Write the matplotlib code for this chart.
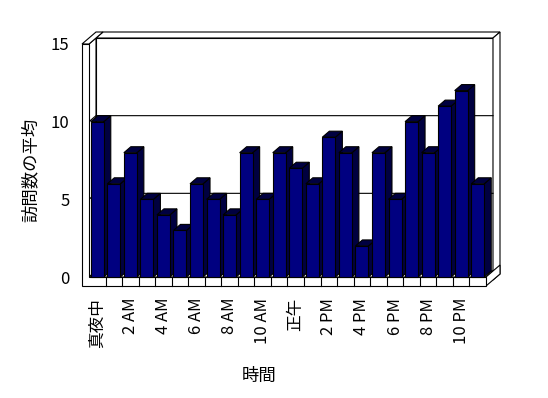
import matplotlib
matplotlib.use("Agg")
import matplotlib.pyplot as plt
from matplotlib.patches import Polygon

plt.rcParams['font.family'] = ['Noto Sans CJK JP', 'DejaVu Sans']

# ---- data ----
hours = ["真夜中", "1 AM", "2 AM", "3 AM", "4 AM", "5 AM", "6 AM", "7 AM", "8 AM", "9 AM",
         "10 AM", "11 AM", "正午", "1 PM", "2 PM", "3 PM", "4 PM", "5 PM", "6 PM", "7 PM",
         "8 PM", "9 PM", "10 PM", "11 PM"]
visits = [10, 6, 8, 5, 4, 3, 6, 5, 4, 8, 5, 8, 7, 6, 9, 8, 2, 8, 5, 10, 8, 11, 12, 6]
yticks = [0, 5, 10, 15]
xlabel = "時間"
ylabel = "訪問数の平均"

W, H = 548, 398
fig = plt.figure(figsize=(W / 100, H / 100), dpi=100)
L, R, B, T = 89, 486, 277, 44  # front plot plane in pixels
ax = fig.add_axes([L / W, 1 - B / H, (R - L) / W, (B - T) / H])
n = len(visits)
X0, X1 = -0.5, n - 0.5
Y0, Y1 = 0, 15
ax.set_xlim(X0, X1)
ax.set_ylim(Y0, Y1)
for s in ax.spines.values():
    s.set_visible(False)

pxx = (R - L) / n
pxy = (B - T) / (Y1 - Y0)
ddx, ddy = 7 / pxx, 6 / pxy      # one depth unit
tw, tf = 7 / pxx, 9 / pxy        # wall / floor thickness
lw = 0.8
navy = "#000080"
dark = "#000040"

def poly(pts, fc, z, ec="black"):
    p = Polygon(pts, closed=True, facecolor=fc, edgecolor=ec, linewidth=lw,
                zorder=z, clip_on=False, joinstyle="miter")
    ax.add_patch(p)

# back wall inner face
poly([(X0 + ddx, Y0 + ddy), (X1 + ddx, Y0 + ddy), (X1 + ddx, Y1 + ddy), (X0 + ddx, Y1 + ddy)], "white", 1)
# back wall top & right side
poly([(X0 + ddx, Y1 + ddy), (X1 + ddx, Y1 + ddy), (X1 + 2 * ddx, Y1 + 2 * ddy), (X0 + 2 * ddx, Y1 + 2 * ddy)], "white", 1)
poly([(X1 + ddx, Y0 - tf + ddy), (X1 + ddx, Y1 + ddy), (X1 + 2 * ddx, Y1 + 2 * ddy), (X1 + 2 * ddx, Y0 - tf + 2 * ddy)], "white", 1)
# left wall inner face
poly([(X0, Y0), (X0, Y1), (X0 + ddx, Y1 + ddy), (X0 + ddx, Y0 + ddy)], "white", 1.5)
# gridlines on back wall and left wall
for v in yticks[1:-1]:
    ax.plot([X0, X0 + ddx, X1 + ddx], [v, v + ddy, v + ddy], color="black", lw=lw,
            zorder=1.6, clip_on=False)
# floor top
poly([(X0, Y0), (X1, Y0), (X1 + ddx, Y0 + ddy), (X0 + ddx, Y0 + ddy)], "white", 1.7)
# floor right side
poly([(X1, Y0 - tf), (X1, Y0), (X1 + 2 * ddx, Y0 + 2 * ddy), (X1 + 2 * ddx, Y0 - tf + 2 * ddy)], "white", 1.7)
# left wall top
poly([(X0 - tw, Y1), (X0, Y1), (X0 + 2 * ddx, Y1 + 2 * ddy), (X0 - tw + 2 * ddx, Y1 + 2 * ddy)], "white", 1.8)
# left wall + floor front face (L shape)
poly([(X0 - tw, Y0 - tf), (X1, Y0 - tf), (X1, Y0), (X0, Y0), (X0, Y1), (X0 - tw, Y1)], "white", 1.9)
# category separators on floor front
for i in range(n - 1):
    ax.plot([i + 0.5, i + 0.5], [Y0 - tf, Y0], color="black", lw=lw, zorder=2, clip_on=False)

# bars
w = 13 / pxx
xs = list(range(n))
for i, v in zip(xs, visits):
    z = 3 + i * 0.01
    xl, xr = i - w / 2, i + w / 2
    poly([(xr, 0), (xr, v), (xr + ddx, v + ddy), (xr + ddx, ddy)], dark, z)
    poly([(xl, v), (xr, v), (xr + ddx, v + ddy), (xl + ddx, v + ddy)], dark, z)
    ax.bar([i], [v], width=w, color=navy, edgecolor="black", linewidth=lw, zorder=z + 0.005,
           clip_on=False)

# y ticks across the wall front face
ax.set_yticks(yticks)
ax.set_yticklabels([str(t) for t in yticks], fontsize=12)
ax.tick_params(axis="y", direction="out", length=7 * 72 / 100, width=lw, pad=9, color="black")

# x labels every two hours
ax.set_xticks(xs[::2])
ax.set_xticklabels(hours[::2], rotation=90, fontsize=12)
ax.tick_params(axis="x", length=0, pad=15)

ax.set_xlabel(xlabel, fontsize=12.5)
ax.xaxis.set_label_coords((259 - L) / (R - L), (B - 376) / (B - T), transform=ax.transAxes)
ax.xaxis.label.set_va("center")
ax.set_ylabel(ylabel, fontsize=12.5)
ax.yaxis.set_label_coords((31 - L) / (R - L), (B - 170) / (B - T), transform=ax.transAxes)
ax.yaxis.label.set_va("center")

fig.savefig("out.png", dpi=100)
